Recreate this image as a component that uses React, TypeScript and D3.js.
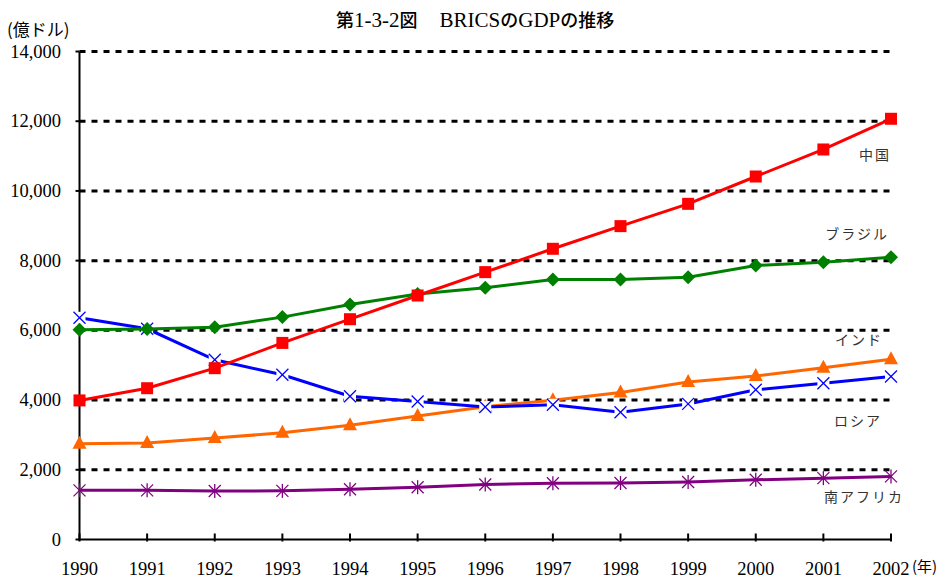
import React from "react";
import * as d3 from "d3";

const years = [1990, 1991, 1992, 1993, 1994, 1995, 1996, 1997, 1998, 1999, 2000, 2001, 2002];
const china = [3990, 4340, 4915, 5640, 6320, 7000, 7670, 8340, 8990, 9630, 10414, 11189, 12070];
const brazil = [6020, 6040, 6090, 6380, 6740, 7040, 7220, 7460, 7460, 7525, 7860, 7956, 8100];
const russia = [6360, 6045, 5155, 4725, 4112, 3960, 3800, 3865, 3652, 3890, 4295, 4485, 4676];
const india = [2750, 2770, 2910, 3060, 3280, 3540, 3810, 3995, 4220, 4520, 4690, 4930, 5170];
const safrica = [1410, 1410, 1390, 1395, 1440, 1500, 1578, 1615, 1620, 1650, 1713, 1760, 1810];
const yTicks = [0, 2000, 4000, 6000, 8000, 10000, 12000, 14000];

// title pieces: [text, isLatin]
const titleParts: [string, boolean][] = [
  ["第", false], ["1-3-2", true], ["図　 ", false], ["BRICS", true], ["の", false], ["GDP", true], ["の推移", false],
];
const yUnit = "(億ドル)";
const xUnit = "(年)";

type Series = { name: string; values: number[]; color: string; marker: string; label: [number, number] };
const series: Series[] = [
  { name: "南アフリカ", values: safrica, color: "#800080", marker: "star", label: [904, 502] },
  { name: "インド", values: india, color: "#FF6600", marker: "tri", label: [883, 345] },
  { name: "ロシア", values: russia, color: "#0000FF", marker: "x", label: [882, 426] },
  { name: "ブラジル", values: brazil, color: "#008000", marker: "diamond", label: [889, 239] },
  { name: "中国", values: china, color: "#FF0000", marker: "square", label: [891, 160] },
];

const serif = "Liberation Serif, DejaVu Serif, serif";
const jp = "Noto Sans CJK JP, sans-serif";

function Marker({ type, x, y, color }: { type: string; x: number; y: number; color: string }) {
  if (type === "square") return <rect x={x - 6} y={y - 6} width={12} height={12} fill={color} />;
  if (type === "diamond")
    return <path d={`M${x},${y - 7}L${x + 7},${y}L${x},${y + 7}L${x - 7},${y}Z`} fill={color} />;
  if (type === "tri")
    return <path d={`M${x},${y - 8}L${x + 7},${y + 5}L${x - 7},${y + 5}Z`} fill={color} />;
  if (type === "x")
    return (
      <g stroke={color} strokeWidth={1.3}>
        <rect x={x - 6} y={y - 6} width={12} height={12} fill="white" stroke="none" />
        <line x1={x - 6} y1={y - 6} x2={x + 6} y2={y + 6} />
        <line x1={x - 6} y1={y + 6} x2={x + 6} y2={y - 6} />
      </g>
    );
  return (
    <g stroke={color} strokeWidth={1.3}>
      <line x1={x - 6} y1={y - 6} x2={x + 6} y2={y + 6} />
      <line x1={x - 6} y1={y + 6} x2={x + 6} y2={y - 6} />
      <line x1={x} y1={y - 7} x2={x} y2={y + 7} />
    </g>
  );
}

export default function App() {
  const W = 947, H = 578;
  const left = 79.5, right = 891, top = 51.5, bottom = 539.5;
  const x = d3.scaleLinear().domain([1990, 2002]).range([left, right]);
  const y = d3.scaleLinear().domain([0, 14000]).range([bottom, top]);
  const line = d3
    .line<number>()
    .x((_, i) => x(years[i]))
    .y((v) => y(v));

  return (
    <svg width={W} height={H} style={{ position: "absolute", left: 0, top: 0 }}>
      <rect width={W} height={H} fill="white" />
      <text x={336} y={27} fill="#000">
        {titleParts.map(([t, latin], i) => (
          <tspan
            key={i}
            style={{ fontFamily: latin ? serif : jp, fontSize: latin ? 21 : 18, fontWeight: latin ? 400 : 500 }}
          >
            {t}
          </tspan>
        ))}
      </text>
      <text x={7} y={36} style={{ fontFamily: jp, fontSize: 17 }} fill="#000">
        {yUnit}
      </text>
      {/* gridlines */}
      {yTicks.filter((t) => t > 0).map((t) => (
        <line key={t} x1={left} x2={right} y1={y(t)} y2={y(t)} stroke="#000" strokeWidth={3} strokeDasharray="6,6" />
      ))}
      {/* y axis */}
      <line x1={left} x2={left} y1={top} y2={bottom + 1} stroke="#000" strokeWidth={2} />
      {yTicks.map((t) => (
        <g key={t}>
          <line x1={left - 4} x2={left} y1={y(t)} y2={y(t)} stroke="#000" strokeWidth={2} />
          <text x={61} y={y(t) + 6} textAnchor="end" style={{ fontFamily: serif, fontSize: 18.5 }} fill="#000">
            {d3.format(",")(t)}
          </text>
        </g>
      ))}
      {/* x axis */}
      <line x1={left - 1} x2={right + 1} y1={bottom} y2={bottom} stroke="#000" strokeWidth={2} />
      {years.map((yr) => (
        <g key={yr}>
          <line x1={x(yr)} x2={x(yr)} y1={bottom - 6} y2={bottom + 2} stroke="#000" strokeWidth={2} />
          <text x={x(yr)} y={575} textAnchor="middle" style={{ fontFamily: serif, fontSize: 18.5 }} fill="#000">
            {yr}
          </text>
        </g>
      ))}
      <text x={912} y={572} style={{ fontFamily: jp, fontSize: 15 }} fill="#000">
        {xUnit}
      </text>
      {/* series */}
      {series.map((s) => (
        <g key={s.name}>
          <path d={line(s.values) || ""} fill="none" stroke={s.color} strokeWidth={3} />
          {s.values.map((v, i) => (
            <Marker key={i} type={s.marker} x={x(years[i])} y={y(v)} color={s.color} />
          ))}
          <text
            x={s.label[0]}
            y={s.label[1]}
            textAnchor="end"
            style={{ fontFamily: jp, fontSize: 14, letterSpacing: 2 }}
            fill="#333"
          >
            {s.name}
          </text>
        </g>
      ))}
    </svg>
  );
}
